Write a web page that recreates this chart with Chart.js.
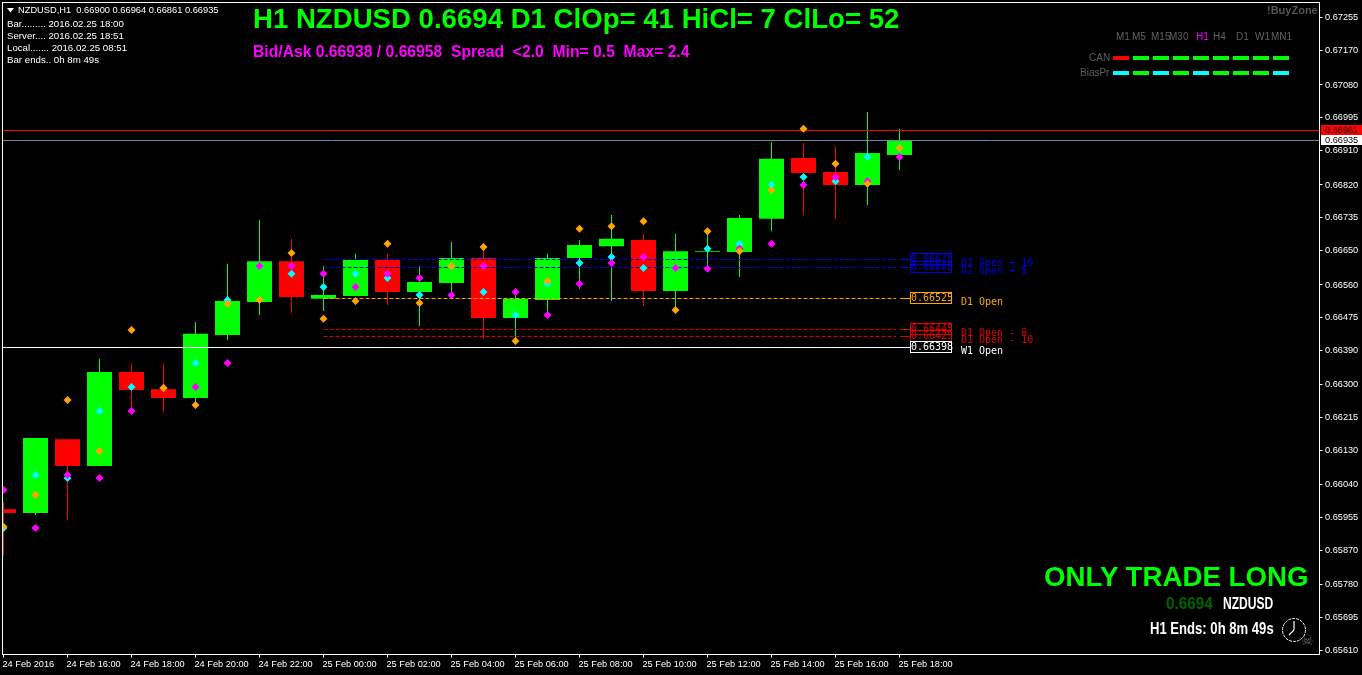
<!DOCTYPE html>
<html>
<head>
<meta charset="utf-8">
<title>NZDUSD,H1</title>
<script src="https://cdn.jsdelivr.net/npm/chart.js@4"></script>
<style>
    html, body { margin: 0; padding: 0; background: #000; overflow: hidden; }
    #wrap { position: relative; width: 1362px; height: 675px; }
    #chart { position: absolute; left: 0; top: 0; }
    .t { position: absolute; white-space: pre; line-height: 1; font-family: "Liberation Sans", sans-serif; }
    .info { font-size: 9.7px; color: #fff; }
    .big { font-weight: bold; color: #00ff00; }
    .narrow { font-weight: bold; font-size: 17px; transform-origin: left top; }
    .tf { font-size: 10px; color: #606060; }
    .dash { position: absolute; width: 16px; height: 4px; }
</style>
</head>
<body>
<div id="wrap">
    <canvas id="chart" width="1362" height="675"></canvas>

    <svg style="position:absolute;left:7px;top:8px" width="7" height="5"><path d="M0 0 H7 L3.5 4.5 Z" fill="#fff"/></svg>
    <div class="t info" style="left:18px;top:6px;font-size:9.3px">NZDUSD,H1  0.66900 0.66964 0.66861 0.66935</div>
    <div class="t info" style="left:7px;top:19px">Bar......... 2016.02.25 18:00</div>
    <div class="t info" style="left:7px;top:31px">Server.... 2016.02.25 18:51</div>
    <div class="t info" style="left:7px;top:43px">Local....... 2016.02.25 08:51</div>
    <div class="t info" style="left:7px;top:55px">Bar ends.. 0h 8m 49s</div>

    <div class="t big" style="left:253px;top:5px;font-size:27.6px">H1 NZDUSD 0.6694 D1 ClOp= 41 HiCl= 7 ClLo= 52</div>
    <div class="t big" style="left:253px;top:44px;font-size:15.7px;color:#ff00ff">Bid/Ask 0.66938 / 0.66958  Spread  &lt;2.0  Min= 0.5  Max= 2.4</div>

    <div class="t" style="left:1267px;top:5px;font-size:11px;font-weight:bold;color:#555">!BuyZone</div>
    <div id="timeframes"></div>
    <div class="t tf" style="left:1089px;top:53px">CAN</div>
    <div class="t tf" style="left:1080px;top:68px">BiasPr</div>

    <div class="t big" style="left:1044px;top:563px;font-size:27.7px">ONLY TRADE LONG</div>
    <div class="t narrow" style="left:1166px;top:595px;color:#006400;transform:scaleX(.9)">0.6694</div>
    <div class="t narrow" style="left:1223px;top:595px;color:#fff;transform:scaleX(.71)">NZDUSD</div>
    <div class="t narrow" style="left:1150px;top:620px;color:#fff;transform:scaleX(.77)">H1 Ends: 0h 8m 49s</div>
    <svg style="position:absolute;left:1281px;top:617px" width="26" height="26" viewBox="0 0 26 26">
        <circle cx="13" cy="13" r="11.5" fill="none" stroke="#fff" stroke-width="1" stroke-dasharray="3 1"/>
        <path d="M13 13 V4 M13 13 L8 18" stroke="#fff" stroke-width="1.2" fill="none"/>
    </svg>
    <div class="t" style="left:1301px;top:633px;font-size:14px;font-family:'DejaVu Sans';color:#666">☠</div>
</div>

<script>
const barIndexes = [0, 1, 2, 3, 4, 5, 6, 7, 8, 9, 10, 11, 12, 13, 14, 15, 16, 17, 18, 19, 20, 21, 22, 23, 24, 25, 26, 27, 28];

const candleOpen = [0.65977, 0.65967, 0.66159, 0.66089, 0.66334, 0.66289, 0.66266, 0.66430, 0.66516, 0.66622, 0.66524, 0.66531, 0.66625, 0.66542, 0.66565, 0.66630, 0.66474, 0.66521, 0.66630, 0.66661, 0.66677, 0.66544, 0.66646, 0.66646, 0.66732, 0.66890, 0.66854, 0.66820, 0.66898];
const candleHigh = [0.65996, 0.66162, 0.66159, 0.66368, 0.66355, 0.66355, 0.66464, 0.66615, 0.66729, 0.66680, 0.66609, 0.66641, 0.66641, 0.66609, 0.66672, 0.66654, 0.66539, 0.66641, 0.66677, 0.66742, 0.66693, 0.66693, 0.66695, 0.66742, 0.66932, 0.66929, 0.66919, 0.67010, 0.66966];
const candleLow = [0.65855, 0.65962, 0.65949, 0.66089, 0.66224, 0.66230, 0.66248, 0.66417, 0.66482, 0.66487, 0.66492, 0.66531, 0.66508, 0.66453, 0.66526, 0.66420, 0.66417, 0.66477, 0.66550, 0.66518, 0.66505, 0.66503, 0.66609, 0.66581, 0.66700, 0.66742, 0.66732, 0.66768, 0.66859];
const candleClose = [0.65967, 0.66162, 0.66089, 0.66334, 0.66287, 0.66266, 0.66433, 0.66518, 0.66622, 0.66529, 0.66534, 0.66625, 0.66542, 0.66568, 0.66630, 0.66474, 0.66524, 0.66630, 0.66664, 0.66680, 0.66544, 0.66648, 0.66648, 0.66734, 0.66888, 0.66851, 0.66820, 0.66903, 0.66937];

const orangeMarks = [0.65931, 0.66014, 0.66261, 0.66128, 0.66443, 0.66292, 0.66248, 0.66511, 0.66521, 0.66643, 0.66472, 0.66518, 0.66667, 0.66513, 0.66609, 0.66659, 0.66414, 0.66570, 0.66706, 0.66713, 0.66726, 0.66495, 0.66700, 0.66648, 0.66807, 0.66966, 0.66875, 0.66823, 0.66916];
const cyanMarks = [0.65928, 0.66066, 0.66058, 0.66232, 0.66295, 0.66292, 0.66357, 0.66521, 0.66609, 0.66589, 0.66555, 0.66589, 0.66578, 0.66534, 0.66609, 0.66542, 0.66482, 0.66563, 0.66617, 0.66633, 0.66604, 0.66604, 0.66654, 0.66667, 0.66820, 0.66841, 0.66830, 0.66893, 0.66916];
const magentaMarks = [0.66027, 0.65928, 0.66066, 0.66058, 0.66232, 0.66292, 0.66295, 0.66357, 0.66609, 0.66609, 0.66589, 0.66555, 0.66589, 0.66578, 0.66534, 0.66609, 0.66542, 0.66482, 0.66563, 0.66617, 0.66633, 0.66604, 0.66602, 0.66654, 0.66667, 0.66820, 0.66841, 0.66830, 0.66893];

const yTickValues = [0.67255, 0.67170, 0.67080, 0.66995, 0.66910, 0.66820, 0.66735, 0.66650, 0.66560, 0.66475, 0.66390, 0.66300, 0.66215, 0.66130, 0.66040, 0.65955, 0.65870, 0.65780, 0.65695, 0.65610];
const xTickIndexes = [0, 2, 4, 6, 8, 10, 12, 14, 16, 18, 20, 22, 24, 26, 28];
const xTickLabels = ['24 Feb 2016', '24 Feb 16:00', '24 Feb 18:00', '24 Feb 20:00', '24 Feb 22:00', '25 Feb 00:00', '25 Feb 02:00', '25 Feb 04:00', '25 Feb 06:00', '25 Feb 08:00', '25 Feb 10:00', '25 Feb 12:00', '25 Feb 14:00', '25 Feb 16:00', '25 Feb 18:00'];

const bidPrice = 0.669617;
const askPrice = 0.669357;
const bidLabel = '0.66961';
const askLabel = '0.66935';

const levelNames = ['D1 Open + 10', 'D1 Open + 8', 'D1 Open', 'D1 Open - 8', 'D1 Open - 10', 'W1 Open'];
const levelLabels = ['0.66625', '0.66605', '0.66525', '0.66445', '0.66425', '0.66398'];
const levelPrices = [0.666262, 0.666054, 0.665248, 0.664442, 0.664260, 0.663974];
const levelColors = ['#0000e0', '#0000e0', '#ffa500', '#e00000', '#e00000', '#ffffff'];

const timeframes = ['M1', 'M5', 'M15', 'M30', 'H1', 'H4', 'D1', 'W1', 'MN1'];
const timeframeLeft = [1116, 1132, 1151, 1169, 1196, 1213, 1236, 1255, 1271];
const canColors = ['#ff0000', '#00ff00', '#00ff00', '#00ff00', '#00ff00', '#00ff00', '#00ff00', '#00ff00', '#00ff00'];
const biasColors = ['#00ffff', '#00ff00', '#00ffff', '#00ff00', '#00ffff', '#00ff00', '#00ff00', '#00ff00', '#00ffff'];

// screen geometry of the MT4 window
const LEFT = 2.5, RIGHT = 1319.5, TOP = 2.5, BOTTOM = 654.5;
const BAR_STEP = 32, FIRST_BAR_X = 3.5;
const Y_MAX = 0.6729453, Y_MIN = 0.6559907;
const X_MIN = (LEFT - FIRST_BAR_X) / BAR_STEP;
const X_MAX = (RIGHT - FIRST_BAR_X) / BAR_STEP;
const LEVEL_START = 10, LEVEL_DASH_END = 27.89, LEVEL_TAIL_START = 28.02, LEVEL_END = 28.33;

const GREEN = '#00ff00', RED = '#ff0000';
const candleColors = candleClose.map((c, i) => c >= candleOpen[i] ? GREEN : RED);

function markDataset(label, values, color, order) {
    return {
        type: 'scatter', label: label, order: order,
        data: barIndexes.map((x, i) => ({ x: x, y: values[i] })),
        pointStyle: 'rectRot', pointRadius: 4, pointHoverRadius: 4, borderWidth: 0,
        backgroundColor: color
    };
}

function lineDataset(label, x1, x2, price, color, dash) {
    return {
        type: 'line', label: label, order: 0,
        data: [{ x: x1, y: price }, { x: x2, y: price }],
        borderColor: color, borderWidth: 1, borderDash: dash, pointRadius: 0, tension: 0
    };
}

const datasets = [
    {
        label: 'wick', order: 2, grouped: false, barThickness: 1, inflateAmount: 0, borderWidth: 0,
        data: barIndexes.map((x, i) => ({ x: x, y: [candleLow[i], candleHigh[i]] })),
        backgroundColor: candleColors
    },
    {
        label: 'body', order: 1, grouped: false, barThickness: 25, inflateAmount: 0, borderWidth: 0,
        data: barIndexes.map((x, i) => ({ x: x, y: [candleOpen[i], candleClose[i]] })),
        backgroundColor: candleColors
    },
    lineDataset('Bid', X_MIN, X_MAX, bidPrice, '#ff0000', []),
    lineDataset('Ask', X_MIN, X_MAX, askPrice, '#778899', []),
    markDataset('cyan', cyanMarks, '#00ffff', -1),
    markDataset('magenta', magentaMarks, '#ff00ff', -2),
    markDataset('orange', orangeMarks, '#ffa500', -3)
];

levelPrices.forEach((price, i) => {
    if (levelNames[i] === 'W1 Open') {
        datasets.push(lineDataset(levelNames[i], X_MIN, LEVEL_END, price, levelColors[i], []));
    } else {
        datasets.push(lineDataset(levelNames[i], LEVEL_START, LEVEL_DASH_END, price, levelColors[i], [4, 2]));
        datasets.push(lineDataset(levelNames[i] + ' tail', LEVEL_TAIL_START, LEVEL_END, price, levelColors[i], []));
    }
});

const framePlugin = {
    id: 'frame',
    afterDraw(chart) {
        const ctx = chart.ctx;
        const area = chart.chartArea;
        const y = chart.scales.y;
        ctx.save();
        ctx.strokeStyle = '#fff';
        ctx.lineWidth = 1;
        ctx.strokeRect(area.left, area.top, area.right - area.left, area.bottom - area.top);

        // level boxes and names
        ctx.font = '10px "DejaVu Sans Mono"';
        ctx.textBaseline = 'middle';
        levelPrices.forEach((price, i) => {
            const py = Math.floor(y.getPixelForValue(price));
            ctx.fillStyle = levelColors[i];
            ctx.strokeStyle = levelColors[i];
            ctx.textAlign = 'left';
            ctx.strokeRect(910.5, py - 5.5, 41, 11);
            ctx.fillText(levelLabels[i], 911, py + 0.5);
            ctx.fillText(levelNames[i], 961, py + 4);
        });

        // bid and ask tags on the axis
        ctx.font = '9.2px "Liberation Sans"';
        [[bidPrice, bidLabel, '#ff0000'], [askPrice, askLabel, '#ffffff']].forEach(tag => {
            const py = Math.floor(y.getPixelForValue(tag[0]));
            ctx.fillStyle = tag[2];
            ctx.fillRect(1321, py - 5, 41, 10);
            ctx.fillStyle = '#000';
            ctx.fillText(tag[1], 1325, py + 0.5);
        });
        ctx.restore();
    }
};

const chart = new Chart(document.getElementById('chart'), {
    type: 'bar',
    data: { datasets: datasets },
    plugins: [framePlugin],
    options: {
        responsive: false,
        animation: false,
        events: [],
        // the scatter points would otherwise push the plot area in
        layout: { autoPadding: false, padding: { left: LEFT, top: TOP, right: 0, bottom: 0 } },
        plugins: { legend: { display: false }, tooltip: { enabled: false } },
        scales: {
            x: {
                type: 'linear', offset: false, min: X_MIN, max: X_MAX,
                grid: { offset: false, drawOnChartArea: false, drawTicks: true, tickLength: 3, color: '#fff' },
                border: { display: false },
                afterBuildTicks: scale => { scale.ticks = xTickIndexes.map(v => ({ value: v })); },
                afterFit: scale => {
                    scale.height = 675 - BOTTOM;
                    scale.paddingLeft = 0;
                    scale.paddingRight = 0;
                },
                ticks: {
                    color: '#fff', font: { family: 'Liberation Sans', size: 9.2 }, padding: 1,
                    align: 'start', autoSkip: false, maxRotation: 0, labelOffset: -1,
                    callback: (value, index) => xTickLabels[index]
                }
            },
            y: {
                position: 'right', min: Y_MIN, max: Y_MAX,
                grid: { drawOnChartArea: false, drawTicks: true, tickLength: 3, color: '#fff' },
                border: { display: false },
                afterBuildTicks: scale => { scale.ticks = yTickValues.map(v => ({ value: v })); },
                afterFit: scale => {
                    scale.width = 1362 - RIGHT;
                    scale.paddingTop = 0;
                    scale.paddingBottom = 0;
                },
                ticks: {
                    color: '#fff', font: { family: 'Liberation Sans', size: 9.2 }, padding: 2.5,
                    autoSkip: false,
                    callback: value => value.toFixed(5)
                }
            }
        }
    }
});

const timeframesDiv = document.getElementById('timeframes');
timeframes.forEach((name, i) => {
    const label = document.createElement('div');
    label.className = 't tf';
    label.textContent = name;
    label.style.left = timeframeLeft[i] + 'px';
    label.style.top = '32px';
    if (name === 'H1') label.style.color = '#ff00ff';
    timeframesDiv.appendChild(label);

    [[canColors, 56], [biasColors, 71]].forEach(row => {
        const dash = document.createElement('div');
        dash.className = 'dash';
        dash.style.left = (1112.5 + i * 20) + 'px';
        dash.style.top = row[1] + 'px';
        dash.style.background = row[0][i];
        timeframesDiv.appendChild(dash);
    });
});
</script>
</body>
</html>
